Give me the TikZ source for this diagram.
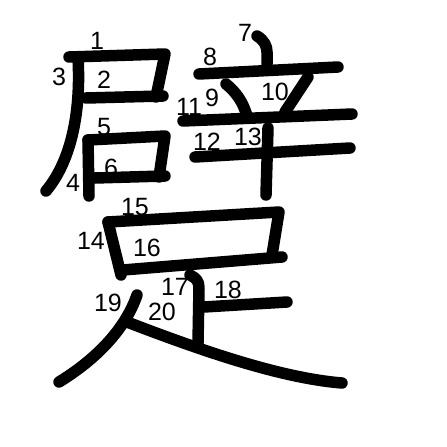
\documentclass[tikz,border=0pt]{standalone}
\usepackage{fontspec}
\setmainfont{Liberation Sans}
\begin{document}
\begin{tikzpicture}[x=1pt,y=-1pt,
  stroke/.style={line width=11.5pt,line cap=round,line join=round},
  num/.style={inner sep=0pt,font=\fontsize{25}{26}\selectfont}]
\useasboundingbox[fill=white] (0,0) rectangle (447,447);
% 尸-like part
\draw[stroke] (69,57) -- (165,54) -- (156,97);
\draw[stroke] (86,98) -- (163,96);
\draw[stroke] (78,58) .. controls (81,110) and (72,160) .. (46,191);
\draw[stroke] (88,140) -- (89,196);
\draw[stroke] (88,140) -- (165,136) -- (159,177);
\draw[stroke] (95,178) -- (165,176);
% 辛
\draw[stroke] (257,36) .. controls (264,40) and (267,46) .. (267,52) -- (267,64);
\draw[stroke] (199,74) -- (338,67);
\draw[stroke] (226,84) .. controls (236,92) and (243,102) .. (247,116);
\draw[stroke] (308,77) -- (285,112);
\draw[stroke] (183,121) -- (352,114);
\draw[stroke] (195,157) -- (350,148);
\draw[stroke] (268,128) -- (266,195);
% 足
\draw[stroke] (108,222) -- (121,275);
\draw[stroke] (108,222) -- (279,212) -- (272,255);
\draw[stroke] (123,270) -- (282,257);
\draw[stroke] (190,275) .. controls (196,278) and (199,281) .. (199,288) -- (198,343);
\draw[stroke] (204,307) -- (287,302);
\draw[stroke] (137,295) .. controls (125,330) and (95,360) .. (59,382);
\draw[stroke] (127,322) .. controls (200,350) and (280,378) .. (342,383);
% numbers
\node[num] (n1) at (97,41) {1};
\node[num] (n2) at (104,80) {2};
\node[num] (n3) at (59,77) {3};
\node[num] (n4) at (73,183) {4};
\node[num] (n5) at (104,127) {5};
\node[num] (n6) at (111,168) {6};
\node[num] (n7) at (245,33) {7};
\node[num] (n8) at (210,57) {8};
\node[num] (n9) at (212,98) {9};
\node[num] (n10) at (275,92) {10};
\node[num] (n11) at (189,107) {11};
\node[num] (n12) at (207,142) {12};
\node[num] (n13) at (248,137) {13};
\node[num] (n14) at (91,241) {14};
\node[num] (n15) at (135,207) {15};
\node[num] (n16) at (147,248) {16};
\node[num] (n17) at (175,287) {17};
\node[num] (n18) at (228,290) {18};
\node[num] (n19) at (108,303) {19};
\node[num] (n20) at (162,312) {20};
\end{tikzpicture}
\end{document}
